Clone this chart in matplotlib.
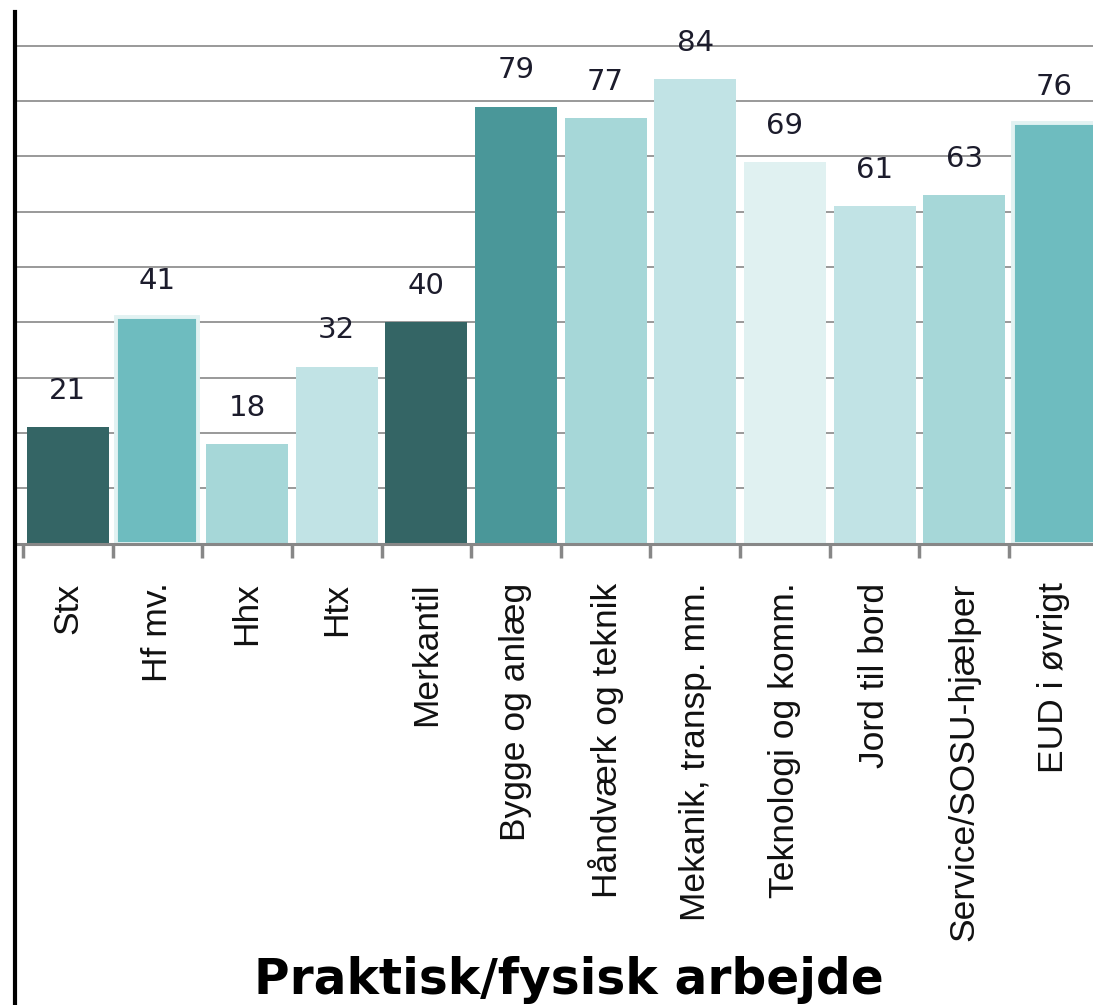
import matplotlib
matplotlib.use("Agg")
import matplotlib.pyplot as plt
from matplotlib.lines import Line2D

# Daten
kategorien = ["Stx", "Hf mv.", "Hhx", "Htx", "Merkantil", "Bygge og anlæg",
              "Håndværk og teknik", "Mekanik, transp. mm.", "Teknologi og komm.",
              "Jord til bord", "Service/SOSU-hjælper", "EUD i øvrigt"]
werte = [21, 41, 18, 32, 40, 79, 77, 84, 69, 61, 63, 76]
farben = ["#346565", "#6ebcbf", "#a6d7d8", "#c1e3e5", "#346565", "#4a9799",
          "#a6d7d8", "#c1e3e5", "#e0f1f1", "#c1e3e5", "#a6d7d8", "#6ebcbf"]
kanten = [None, "#e2f2f2", None, None, None, None,
          None, None, None, None, None, "#e2f2f2"]
titel_x = "Praktisk/fysisk arbejde"

W, H = 1093, 1005
fig = plt.figure(figsize=(W / 100, H / 100), dpi=100)
ax = fig.add_axes([17 / W, (H - 543.5) / H, 1 - 17 / W, 543.5 / H])

pos = list(range(len(werte)))
for i, (w, f, k) in enumerate(zip(werte, farben, kanten)):
    if k:
        ax.bar(i, w, width=0.915, color=f, edgecolor=k, linewidth=2.8, zorder=2)
    else:
        ax.bar(i, w, width=0.915, color=f, linewidth=0, zorder=2)
    ax.annotate(str(w), (i, w), xytext=(0, 16), textcoords="offset points",
                ha="center", va="bottom", fontsize=21, color="#1c1c2c",
                family="DejaVu Sans")

# Skalen
ax.set_xlim(-0.5 - 6 / 89.6, (W - 23.4) / 89.6 - 0.5)
ax.set_ylim(0, 98.3)
ax.set_yticks(range(10, 100, 10))
ax.yaxis.grid(True, color="#878787", linewidth=1.2, zorder=0)
ax.tick_params(axis="y", left=False, labelleft=False)

ax.set_xticks([p - 0.5 for p in pos])
ax.set_xticklabels([])
ax.set_xticks(pos, minor=True)
ax.set_xticklabels(kategorien, minor=True, rotation=90, ha="center", va="top",
                   fontsize=25.5, family=["Liberation Sans", "DejaVu Sans"],
                   color="#111111")
ax.tick_params(axis="x", which="major", length=10, width=2.5, color="#878787",
               direction="out")
ax.tick_params(axis="x", which="minor", length=0, pad=28)

for s in ["top", "right", "left"]:
    ax.spines[s].set_visible(False)
ax.spines["bottom"].set_color("#878787")
ax.spines["bottom"].set_linewidth(2.2)
ax.spines["bottom"].set_zorder(3)

# schwarze Linie links
fig.add_artist(Line2D([15 / W, 15 / W], [0, (H - 12) / H], color="black",
                      linewidth=3, transform=fig.transFigure))

fig.text(569 / W, 11 / H, titel_x, ha="center", va="baseline", fontsize=35,
         fontweight="bold", family="DejaVu Sans", color="black")

fig.savefig("out.png", dpi=100)
